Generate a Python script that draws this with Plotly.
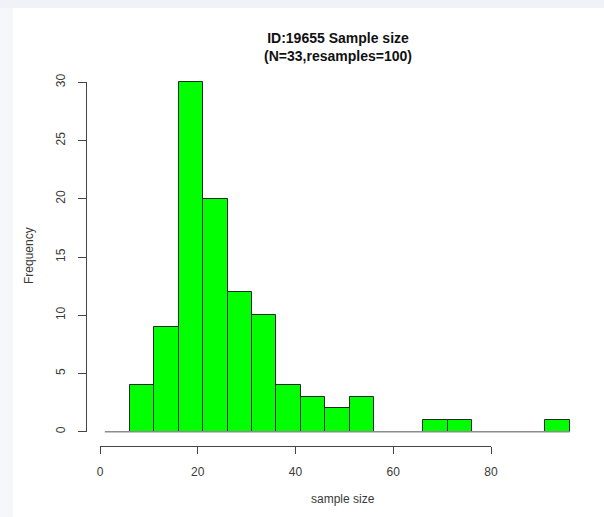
import plotly.graph_objects as go

# ---- data ----
bin_start = 6.1
bin_width = 5
counts = [4, 9, 30, 20, 12, 10, 4, 3, 2, 3, 0, 0, 1, 1, 0, 0, 0, 1]
x_ticks = [0, 20, 40, 60, 80]
y_ticks = [0, 5, 10, 15, 20, 25, 30]
baseline_start = 1.0
title_text = "ID:19655 Sample size<br>(N=33,resamples=100)"
x_label = "sample size"
y_label = "Frequency"

# ---- layout geometry (pixels) ----
W, H = 604, 517
X0_PX, X80_PX = 100.0, 491.0      # pixel of x=0 and x=80
Y0_PX, Y30_PX = 431.7, 82.3       # pixel of y=0 and y=30
XAXIS_PX = 446.0                  # y pixel of the drawn x axis line
YAXIS_PX = 86.0                   # x pixel of the drawn y axis line

sx = (X80_PX - X0_PX) / 80.0
sy = (Y0_PX - Y30_PX) / 30.0

centers = [bin_start + bin_width * (i + 0.5) for i in range(len(counts))]
bar_x = [c for c, n in zip(centers, counts) if n > 0]
bar_y = [n for n in counts if n > 0]
last_edge = bin_start + bin_width * len(counts)

font_fam = "Liberation Sans, Arial, sans-serif"
txt_col = "#3a3a3a"

fig = go.Figure()

# baseline
fig.add_trace(go.Scatter(
    x=[baseline_start, last_edge], y=[0, 0], mode="lines",
    line=dict(color="#8c8c8c", width=1.6), showlegend=False, hoverinfo="skip"))

# bars
fig.add_trace(go.Bar(
    x=bar_x, y=bar_y, width=bin_width,
    marker=dict(color="#00FF00", line=dict(color="#1e2a1e", width=1)),
    showlegend=False))

# dummy trace to create the R-style detached axes
fig.add_trace(go.Scatter(x=[None], y=[None], xaxis="x2", yaxis="y2",
                         showlegend=False, hoverinfo="skip"))

fig.update_layout(
    width=W, height=H,
    margin=dict(l=0, r=0, t=0, b=0, autoexpand=False),
    paper_bgcolor="white", plot_bgcolor="rgba(0,0,0,0)",
    bargap=0,
    xaxis=dict(domain=[0, 1], range=[-X0_PX / sx, (W - X0_PX) / sx],
               visible=False, fixedrange=True),
    yaxis=dict(domain=[0, 1], range=[-(H - Y0_PX) / sy, Y0_PX / sy],
               visible=False, fixedrange=True),
    xaxis2=dict(domain=[X0_PX / W, X80_PX / W], range=[0, 80],
                anchor="free", position=1 - XAXIS_PX / H, side="bottom",
                showline=True, linecolor="#444", linewidth=1,
                ticks="outside", ticklen=7, tickcolor="#444", tickwidth=1,
                tickvals=x_ticks, showgrid=False, zeroline=False,
                tickfont=dict(family=font_fam, size=12, color=txt_col),
                ticklabelstandoff=8),
    yaxis2=dict(domain=[1 - Y0_PX / H, 1 - Y30_PX / H], range=[0, 30],
                anchor="free", position=YAXIS_PX / W, side="left",
                showline=True, linecolor="#444", linewidth=1,
                ticks="outside", ticklen=8, tickcolor="#444", tickwidth=1,
                tickvals=y_ticks, showgrid=False, zeroline=False,
                tickangle=-90,
                tickfont=dict(family=font_fam, size=12, color=txt_col),
                ticklabelstandoff=8),
    title=dict(text="<b>" + title_text + "</b>", x=338 / W, xanchor="center",
               y=1 - 43 / H, yanchor="top",
               font=dict(family=font_fam, size=14, color="#111")),
    annotations=[
        dict(text=y_label, xref="paper", yref="paper", x=29 / W, y=1 - 256 / H,
             textangle=-90, showarrow=False, xanchor="center", yanchor="middle",
             font=dict(family=font_fam, size=12, color=txt_col)),
        dict(text=x_label, xref="paper", yref="paper", x=343 / W, y=1 - 499 / H,
             showarrow=False, xanchor="center", yanchor="middle",
             font=dict(family=font_fam, size=12, color=txt_col)),
    ],
    shapes=[
        dict(type="rect", xref="paper", yref="paper", x0=0, x1=1,
             y0=1 - 8 / H, y1=1, fillcolor="#f0f2f7", line=dict(width=0),
             layer="below"),
        dict(type="rect", xref="paper", yref="paper", x0=0, x1=13 / W,
             y0=0, y1=1 - 8 / H, fillcolor="#f5f7fa", line=dict(width=0),
             layer="below"),
    ],
)

fig.write_html("out.html")
